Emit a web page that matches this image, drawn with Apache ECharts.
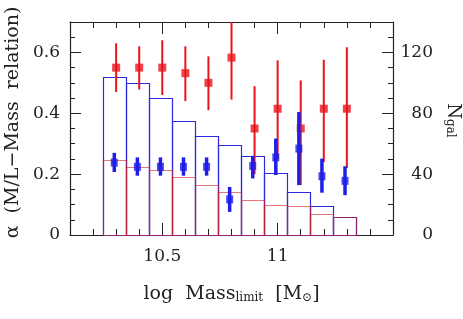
<!DOCTYPE html>
<html>
<head>
<meta charset="utf-8">
<script src="https://cdn.jsdelivr.net/npm/echarts@6/dist/echarts.min.js"></script>
<style>html,body{margin:0;padding:0;background:#fff}#c{width:463px;height:319px}</style>
</head>
<body>
<div id="c"></div>
<script>
// ---- data ----
const massLimit   = [10.3, 10.4, 10.5, 10.6, 10.7, 10.8, 10.9, 11.0, 11.1, 11.2, 11.3];
const alphaRed    = [0.55, 0.55, 0.55, 0.532, 0.50, 0.583, 0.35, 0.415, 0.35, 0.415, 0.415];
const alphaRedLo  = [0.47, 0.478, 0.46, 0.44, 0.41, 0.445, 0.20, 0.25, 0.164, 0.24, 0.22];
const alphaRedHi  = [0.63, 0.62, 0.64, 0.62, 0.587, 0.72, 0.489, 0.574, 0.508, 0.576, 0.617];
const alphaBlue   = [0.238, 0.224, 0.224, 0.224, 0.224, 0.117, 0.227, 0.255, 0.284, 0.193, 0.178];
const alphaBlueLo = [0.207, 0.195, 0.195, 0.195, 0.195, 0.076, 0.186, 0.197, 0.164, 0.139, 0.131];
const alphaBlueHi = [0.27, 0.255, 0.255, 0.255, 0.255, 0.158, 0.26, 0.317, 0.404, 0.251, 0.226];
const nGalBlue    = [104, 100, 90, 75, 65, 59, 52, 41, 28, 19, 12];
const nGalRed     = [49, 45, 43, 38, 33, 28, 23, 20, 19, 14, 12];

const xLabels     = [10.5, 11];
const xMajorTicks = [10.5, 11];
const xMinorTicks = [10.2, 10.3, 10.4, 10.6, 10.7, 10.8, 10.9, 11.1, 11.2, 11.3, 11.4];
const yLabels     = [0, 0.2, 0.4, 0.6];
const yMajorTicks = [0.2, 0.4, 0.6];
const yMinorTicks = [0.05, 0.1, 0.15, 0.25, 0.3, 0.35, 0.45, 0.5, 0.55, 0.65];
const nLabels     = [0, 40, 80, 120];
const nMajorTicks = [40, 80, 120];
const nMinorTicks = [10, 20, 30, 50, 60, 70, 90, 100, 110, 130];

// ---- styling ----
const FONT = 'DejaVu Serif';
const INK = '#222';
const RED = '#e8141c';
const BLUE = '#1e1ee8';
const BIN = 0.1;
const SHIFT = -0.008;

const chart = echarts.init(document.getElementById('c'), null, {renderer: 'canvas'});

function xAx(pos, ticks, len, showLine, labels) {
  return {
    type: 'value', position: pos, min: 10.1, max: 11.5,
    axisLine: {show: showLine, onZero: false, lineStyle: {color: INK, width: 1.2}},
    axisTick: {show: true, inside: true, length: len, customValues: ticks, lineStyle: {color: INK, width: 1}},
    axisLabel: labels ? {show: true, customValues: labels, margin: 13, fontFamily: FONT, fontSize: 17, color: INK,
      formatter: v => String(Math.round(v * 10) / 10)} : {show: false},
    splitLine: {show: false}
  };
}
function yAx(pos, max, ticks, len, showLine, extra) {
  return Object.assign({
    type: 'value', position: pos, min: 0, max: max,
    axisLine: {show: showLine, onZero: false, lineStyle: {color: INK, width: 1.2}},
    axisTick: {show: true, inside: true, length: len, customValues: ticks, lineStyle: {color: INK, width: 1}},
    axisLabel: {show: false},
    splitLine: {show: false}
  }, extra || {});
}

const histData = (arr) => massLimit.map((m, i) => [m, arr[i]]);
const errData = (lo, hi) => massLimit.map((m, i) => [m, lo[i], hi[i]]);

function histRender(color, opacity) {
  return function (params, api) {
    const x = api.value(0), n = api.value(1);
    const p0 = api.coord([x - BIN / 2 + SHIFT, 0]);
    const p1 = api.coord([x + BIN / 2 + SHIFT, n]);
    return {type: 'rect',
      shape: {x: Math.round(p0[0]) + 0.5, y: Math.round(p1[1]) + 0.5, width: Math.round(p1[0] - p0[0]), height: Math.round(p0[1] - p1[1])},
      style: {fill: 'none', stroke: color, lineWidth: 1.2, opacity: opacity}};
  };
}
function errRender(color, width, dx) {
  return function (params, api) {
    const x = api.value(0);
    const a = api.coord([x + dx, api.value(1)]);
    const b = api.coord([x + dx, api.value(2)]);
    return {type: 'line', shape: {x1: a[0], y1: a[1], x2: b[0], y2: b[1]},
      style: {stroke: color, lineWidth: width}};
  };
}

const subStyle = {fontFamily: FONT, fontSize: 12, color: INK, verticalAlign: 'bottom', lineHeight: 12, padding: [9, 0, 0, 0]};

chart.setOption({
  animation: false,
  grid: {left: 70, right: 70, top: 22, bottom: 84, containLabel: false, outerBoundsMode: 'none'},
  xAxis: [
    Object.assign(xAx('bottom', xMajorTicks, 12, true, xLabels), {
      name: 'log  Mass{s|limit}  [M{s|⊙}]', nameLocation: 'middle', nameGap: 50,
      nameTextStyle: {fontFamily: FONT, fontSize: 19, color: INK, rich: {s: subStyle}}
    }),
    xAx('bottom', xMinorTicks, 6, false),
    xAx('top', xMajorTicks, 12, true),
    xAx('top', xMinorTicks, 6, false)
  ],
  yAxis: [
    yAx('left', 0.7, yMajorTicks, 11, true, {
      axisLabel: {show: true, customValues: yLabels, margin: 10, fontFamily: FONT, fontSize: 17, color: INK,
        formatter: v => String(Math.round(v * 10) / 10)},
      name: 'α  (M/L−Mass  relation)', nameLocation: 'middle', nameRotate: 90, nameGap: 47,
      nameTextStyle: {fontFamily: FONT, fontSize: 19, color: INK, padding: [0, 0, 0, 12]}
    }),
    yAx('left', 0.7, yMinorTicks, 5, false),
    yAx('right', 140, nMajorTicks, 11, true, {
      axisLabel: {show: true, customValues: nLabels, margin: 40, align: 'right', fontFamily: FONT, fontSize: 17, color: INK},
      name: '{n|N}{s|gal}', nameLocation: 'middle', nameRotate: -90, nameGap: 50,
      nameTextStyle: {fontFamily: FONT, fontSize: 17, color: INK, padding: [0, 16, 0, 0],
        rich: {n: {fontFamily: FONT, fontSize: 18, color: INK}, s: subStyle}}
    }),
    yAx('right', 140, nMinorTicks, 5, false)
  ],
  series: [
    {type: 'custom', xAxisIndex: 0, yAxisIndex: 2, data: histData(nGalBlue), renderItem: histRender('#2a2ae0', 1), z: 1, silent: true},
    {type: 'custom', xAxisIndex: 0, yAxisIndex: 2, data: histData(nGalRed), renderItem: histRender('#d42020', 0.6), z: 2, silent: true},
    {type: 'custom', xAxisIndex: 0, yAxisIndex: 0, data: errData(alphaRedLo, alphaRedHi), renderItem: errRender(RED, 2, 0), clip: true, z: 3, silent: true},
    {type: 'scatter', xAxisIndex: 0, yAxisIndex: 0, data: massLimit.map((m, i) => [m, alphaRed[i]]), symbol: 'rect', symbolSize: 8,
      itemStyle: {color: RED}, z: 4, silent: true},
    {type: 'custom', xAxisIndex: 0, yAxisIndex: 0, data: errData(alphaBlueLo, alphaBlueHi), renderItem: errRender(BLUE, 3.5, SHIFT), clip: true, z: 5, silent: true},
    {type: 'scatter', xAxisIndex: 0, yAxisIndex: 0, data: massLimit.map((m, i) => [m + SHIFT, alphaBlue[i]]), symbol: 'rect', symbolSize: [7, 8],
      itemStyle: {color: BLUE}, z: 6, silent: true}
  ]
});
</script>
</body>
</html>
